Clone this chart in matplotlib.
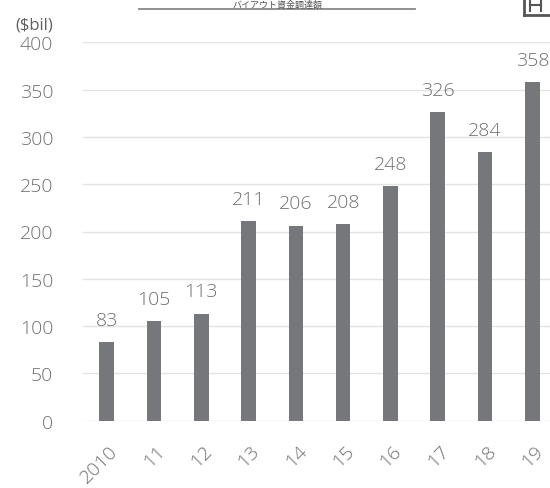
import matplotlib
matplotlib.use("Agg")
import matplotlib.pyplot as plt
from matplotlib.lines import Line2D
from matplotlib.transforms import ScaledTranslation

plt.rcParams['font.family'] = ['Open Sans', 'Noto Sans CJK JP', 'DejaVu Sans']

years = ["2010", "11", "12", "13", "14", "15", "16", "17", "18", "19"]
values = [83, 105, 113, 211, 206, 208, 248, 326, 284, 358]
yticks = [0, 50, 100, 150, 200, 250, 300, 350, 400]
title = "バイアウト資金調達額"
unit = "($bil)"

W, H = 550, 489
fig = plt.figure(figsize=(W / 100, H / 100), dpi=100)
ax = fig.add_axes([83 / W, 1 - 421.7 / H, 473 / W, (421.7 - 43.3) / H])

text_c = "#707070"
bar_c = "#76777b"
fs = 14

x = list(range(len(years)))
ax.bar(x, values, width=0.31, color=bar_c, zorder=3)
ax.set_xlim(-0.5, len(years) - 0.5)
ax.set_ylim(0, 400)
ax.set_yticks(yticks)
ax.yaxis.grid(True, color="#e3e3e3", linewidth=1.0, zorder=0)
for s in ax.spines.values():
    s.set_visible(False)
ax.tick_params(axis='y', length=0, pad=21.5, labelsize=fs, labelcolor=text_c)
ax.tick_params(axis='x', length=0, pad=15, labelsize=fs, labelcolor=text_c)
ax.set_xticks(x)
ax.set_xticklabels(years, rotation=45, ha='right', rotation_mode='anchor')
shift = ScaledTranslation(2 / 100, 0, fig.dpi_scale_trans)
for lbl in ax.get_xticklabels():
    lbl.set_transform(lbl.get_transform() + shift)
    lbl.set_fontweight('light')
for lbl in ax.get_yticklabels():
    lbl.set_fontweight('light')

for xi, v in zip(x, values):
    ax.annotate(str(v), (xi, v), xytext=(0, 12.5), textcoords='offset points',
                ha='center', va='baseline', fontsize=fs, color=text_c,
                fontweight='light')

# unit label
fig.text(53 / W, 1 - 29 / H, unit, ha='right', va='baseline', fontsize=12,
         color="#606060")

# title (kept fully visible, small, above its underline)
fig.text(277 / W, 1 - 0.5 / H, title, ha='center', va='top', fontsize=6.5,
         color="#555555", family=['Noto Sans CJK JP', 'DejaVu Sans'])
fig.add_artist(Line2D([139 / W, 415 / W], [1 - 9.5 / H, 1 - 9.5 / H],
                      transform=fig.transFigure, color="#888888", linewidth=1.3))

# partial icon at top right
ic = "#555555"
fig.add_artist(Line2D([524 / W, 524 / W], [1.0, 1 - 16 / H], transform=fig.transFigure, color=ic, linewidth=2))
fig.add_artist(Line2D([524 / W, 1.0], [1 - 16 / H, 1 - 16 / H], transform=fig.transFigure, color=ic, linewidth=2))
fig.add_artist(Line2D([530 / W, 530 / W], [1.0, 1 - 12 / H], transform=fig.transFigure, color=ic, linewidth=1.5))
fig.add_artist(Line2D([541 / W, 541 / W], [1.0, 1 - 12 / H], transform=fig.transFigure, color=ic, linewidth=1.5))
fig.add_artist(Line2D([530 / W, 541 / W], [1 - 6 / H, 1 - 6 / H], transform=fig.transFigure, color=ic, linewidth=1.5))

fig.savefig("out.png", dpi=100)
